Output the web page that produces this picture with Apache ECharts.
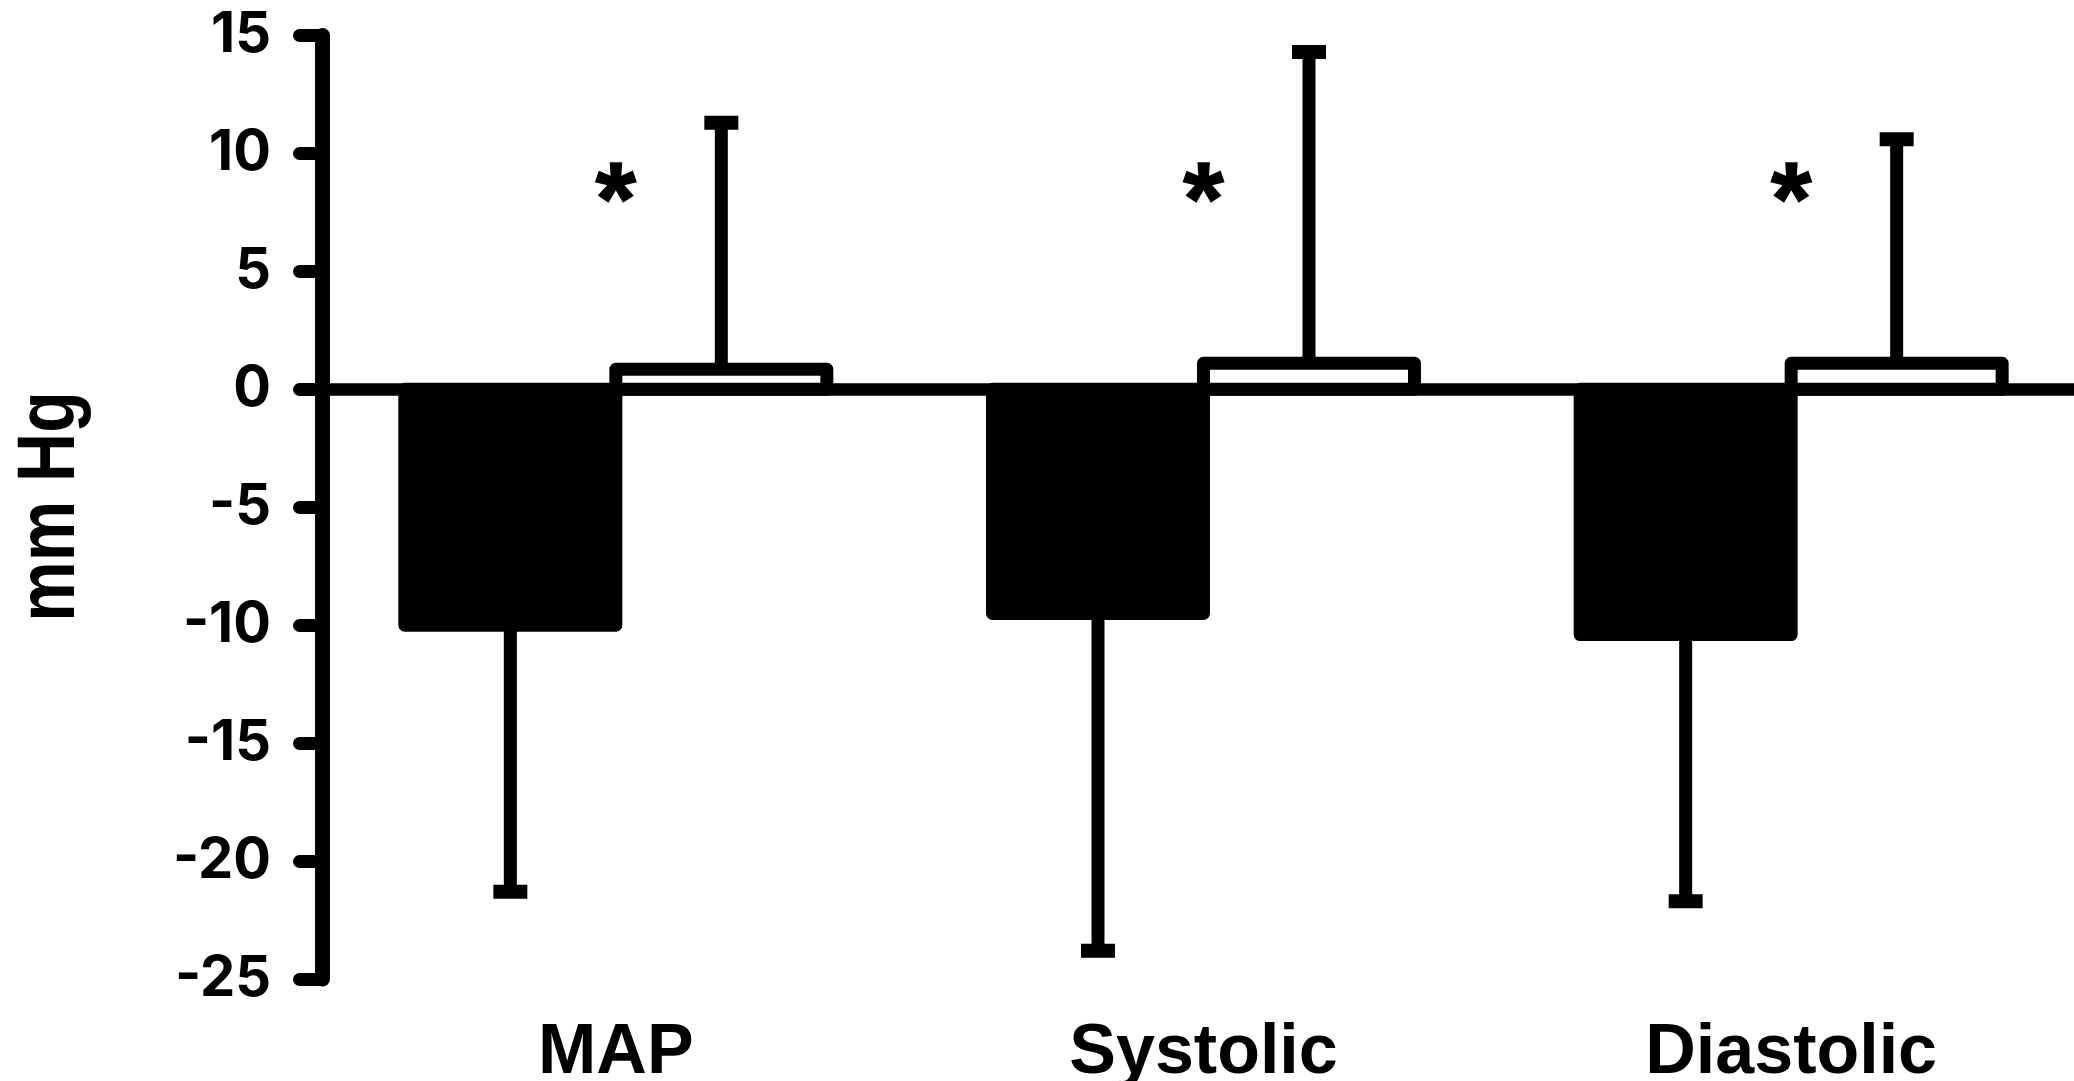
<!DOCTYPE html>
<html>
<head>
<meta charset="utf-8">
<script src="https://cdn.jsdelivr.net/npm/echarts@6/dist/echarts.min.js"></script>
<style>
  html, body { margin: 0; padding: 0; background: #fff; }
  #chart { width: 2074px; height: 1081px; }
</style>
</head>
<body>
<div id="chart"></div>
<script>
// ---- data ----
const categories = ['MAP', 'Systolic', 'Diastolic'];
const groupAMeans = [-10.0, -9.5, -10.4];   // black bars
const groupASD    = [11.3, 14.3, 11.3];     // lower error
const groupBMeans = [0.85, 1.1, 1.1];       // white bars
const groupBSD    = [10.45, 13.2, 9.5];     // upper error
const asteriskLevel = [8.7, 8.7, 8.7];
const yTicks = [-25, -20, -15, -10, -5, 0, 5, 10, 15];
const yTitle = 'mm Hg';

// ---- styles ----
const FONT = "'Liberation Sans', Arial, Helvetica, sans-serif";
const TICK_FONT = "Inter, 'Liberation Sans', Arial, sans-serif";
const BAR_W = 211;
const LW = 13;

const barData = [];
const errData = [];
categories.forEach((c, i) => {
  barData.push([i, groupAMeans[i], -1]);
  barData.push([i, groupBMeans[i], 1]);
  errData.push([i, groupAMeans[i], groupAMeans[i] - groupASD[i], -1]);
  errData.push([i, groupBMeans[i], groupBMeans[i] + groupBSD[i], 1]);
});

const chart = echarts.init(document.getElementById('chart'), null, { renderer: 'canvas' });
chart.setOption({
  animation: false,
  backgroundColor: '#ffffff',
  grid: { left: 322, right: -11, top: 35.5, bottom: 102, containLabel: false, outerBoundsMode: 'none' },
  xAxis: [
    {
      type: 'category', data: categories,
      axisLine: { show: true, onZero: true, lineStyle: { color: '#000', width: 12.5 } },
      axisTick: { show: false }, axisLabel: { show: false }, splitLine: { show: false }
    },
    {
      type: 'category', data: categories, position: 'bottom',
      axisLine: { show: false, onZero: false }, axisTick: { show: false },
      axisLabel: { show: true, color: '#000', fontFamily: FONT, fontWeight: 'bold', fontSize: 70, margin: 40 },
      splitLine: { show: false }
    }
  ],
  yAxis: {
    type: 'value', min: yTicks[0], max: yTicks[yTicks.length - 1], interval: 5,
    axisLine: { show: true, onZero: false, lineStyle: { color: '#000', width: 15, cap: 'round' } },
    axisTick: { show: true, inside: false, length: 22.5, lineStyle: { color: '#000', width: LW, cap: 'round' } },
    axisLabel: { color: '#000', fontFamily: TICK_FONT, fontWeight: 'bold', fontSize: 56, margin: 51 },
    splitLine: { show: false }
  },
  graphic: [
    {
      type: 'text', x: 51.5, y: 506.5, rotation: Math.PI / 2, scaleX: 0.83,
      style: { text: yTitle, fill: '#000', font: "bold 82px 'Liberation Sans', Arial, sans-serif", align: 'center', verticalAlign: 'middle' }
    }
  ],
  series: [
    {
      type: 'custom', xAxisIndex: 0, z: 1,
      data: errData,
      encode: { x: 0, y: [1, 2] },
      renderItem: function (params, api) {
        const ci = api.value(0);
        const p = api.coord([ci, api.value(1)]);
        const q = api.coord([ci, api.value(2)]);
        const x = p[0] + api.value(3) * BAR_W / 2;
        return {
          type: 'group',
          children: [
            { type: 'line', shape: { x1: x, y1: p[1], x2: x, y2: q[1] }, style: { stroke: '#000', lineWidth: LW } },
            { type: 'rect', shape: { x: x - 17, y: q[1] - 7, width: 34, height: 14 }, style: { fill: '#000' } }
          ]
        };
      }
    },
    {
      type: 'custom', xAxisIndex: 0, z: 2,
      data: barData,
      encode: { x: 0, y: 1 },
      renderItem: function (params, api) {
        const ci = api.value(0);
        const side = api.value(2);
        const base = api.coord([ci, 0]);
        const top = api.coord([ci, api.value(1)]);
        const x0 = side < 0 ? base[0] - BAR_W : base[0];
        return {
          type: 'rect',
          shape: { x: x0, y: Math.min(base[1], top[1]), width: BAR_W, height: Math.abs(top[1] - base[1]) },
          style: { fill: side < 0 ? '#000' : '#fff', stroke: '#000', lineWidth: LW, lineJoin: 'round' }
        };
      }
    },
    {
      type: 'scatter', xAxisIndex: 0, data: asteriskLevel, symbolSize: 0, z: 3,
      itemStyle: { opacity: 1, color: '#000' },
      label: {
        show: true, position: 'inside', formatter: '*', color: '#000', opacity: 1,
        fontFamily: FONT, fontWeight: 'bold', fontSize: 104, offset: [0, 22],
        textBorderColor: '#000', textBorderWidth: 1.5
      }
    }
  ]
});
</script>
</body>
</html>
